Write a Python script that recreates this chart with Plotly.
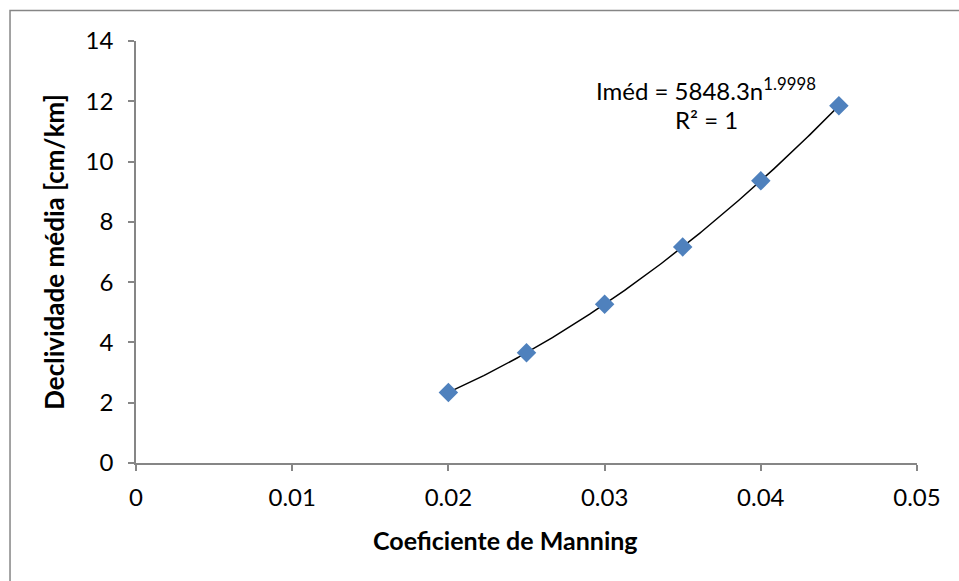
import numpy as np
import plotly.graph_objects as go

# Manning roughness coefficient vs. mean slope
manning_n = [0.020, 0.025, 0.030, 0.035, 0.040, 0.045]
mean_slope = [2.34, 3.66, 5.27, 7.17, 9.36, 11.85]

# Power trendline coefficients (Iméd = a * n^b)
fit_a = 5848.3
fit_b = 1.9998

x_ticks = [0, 0.01, 0.02, 0.03, 0.04, 0.05]
x_tick_labels = ["0", "0.01", "0.02", "0.03", "0.04", "0.05"]
y_ticks = [0, 2, 4, 6, 8, 10, 12, 14]

FONT = "Lato, 'Open Sans', sans-serif"
AXIS_GREY = "#868686"

n_curve = np.linspace(min(manning_n), max(manning_n), 200)
slope_curve = fit_a * n_curve ** fit_b

fig = go.Figure()
fig.add_trace(go.Scatter(
    x=n_curve, y=slope_curve, mode="lines",
    line=dict(color="black", width=1.5), hoverinfo="skip", showlegend=False,
))
fig.add_trace(go.Scatter(
    x=manning_n, y=mean_slope, mode="markers",
    marker=dict(symbol="diamond", size=15, color="#4F81BD"),
    showlegend=False,
))

# trendline equation
fig.add_annotation(
    x=0.0365, y=12.42, xref="x", yref="y", showarrow=False,
    text="Iméd = 5848.3n<sup>1.9998</sup>",
    font=dict(family=FONT, size=24, color="black"),
)
fig.add_annotation(
    x=0.0365, y=11.4, xref="x", yref="y", showarrow=False,
    text="R² = 1",
    font=dict(family=FONT, size=24, color="black"),
)

# x-axis title, centred on the chart area
fig.add_annotation(
    x=0.4725, y=-0.1825, xref="paper", yref="paper", showarrow=False,
    xanchor="center", yanchor="middle",
    text="<b>Coeficiente de Manning</b>",
    font=dict(family=FONT, size=25, color="black"),
)

# chart frame
fig.add_shape(
    type="rect", xref="paper", yref="paper",
    x0=-0.1613, x1=1.2, y0=-0.4, y1=1.0723,
    line=dict(color=AXIS_GREY, width=1.5), layer="below",
)

fig.update_layout(
    width=959, height=581,
    margin=dict(l=136, r=42, t=41, b=118),
    paper_bgcolor="white", plot_bgcolor="white",
    font=dict(family=FONT, size=24, color="black"),
    xaxis=dict(
        range=[0, 0.05], tickvals=x_ticks, ticktext=x_tick_labels,
        showgrid=False, zeroline=False, showline=True,
        linecolor=AXIS_GREY, linewidth=1.5,
        ticks="outside", ticklen=6, tickcolor=AXIS_GREY, tickwidth=1.5,
        tickfont=dict(family=FONT, size=24), ticklabelstandoff=6,
    ),
    yaxis=dict(
        range=[0, 14], tickvals=y_ticks,
        showgrid=False, zeroline=False, showline=True,
        linecolor=AXIS_GREY, linewidth=1.5,
        ticks="outside", ticklen=6, tickcolor=AXIS_GREY, tickwidth=1.5,
        tickfont=dict(family=FONT, size=24), ticklabelstandoff=10,
        title=dict(text="<b>Declividade média [cm/km]</b>", standoff=14,
                   font=dict(family=FONT, size=26)),
    ),
)

fig.write_html("out.html")
